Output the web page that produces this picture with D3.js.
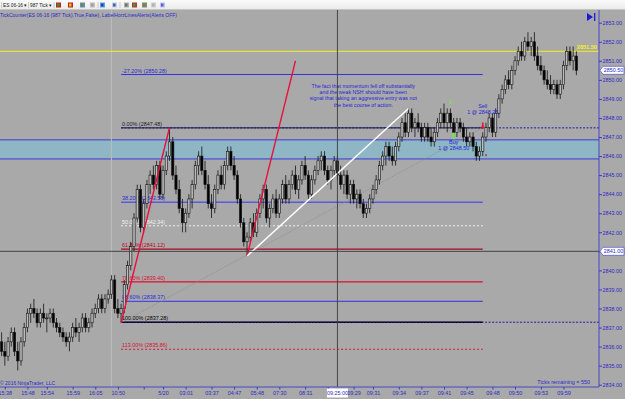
<!DOCTYPE html>
<html>
<head>
<meta charset="utf-8">
<title>ES 06-16 987 Tick</title>
<script src="https://d3js.org/d3.v7.min.js"></script>
<style>
  html, body { margin: 0; padding: 0; background: #a9a9a9; }
  svg { display: block; }
  text { font-family: "Liberation Sans", Arial, sans-serif; }
</style>
</head>
<body>
<svg id="chart" width="625" height="399"></svg>
<script>
// bars: [open, high, low, close]
const bars = [
  [2836.25,2836.75,2835.50,2835.75],[2835.75,2836.25,2835.00,2835.50],[2835.50,2836.50,2835.25,2836.25],
  [2836.25,2837.00,2836.00,2836.75],[2836.75,2837.00,2835.50,2835.75],[2835.75,2836.25,2834.75,2835.25],
  [2835.25,2836.50,2835.00,2836.25],[2836.25,2837.25,2836.00,2837.00],[2837.00,2838.00,2836.75,2837.75],
  [2837.75,2838.25,2837.25,2838.00],[2838.00,2838.50,2837.50,2837.75],[2837.75,2838.00,2837.00,2837.25],
  [2837.25,2838.00,2837.00,2837.75],[2837.75,2838.25,2837.25,2837.50],[2837.50,2837.75,2836.75,2837.50],
  [2837.50,2838.00,2837.25,2837.75],[2837.75,2838.00,2837.00,2837.25],[2837.25,2837.50,2836.75,2837.00],
  [2837.00,2837.25,2836.50,2836.75],[2836.75,2837.00,2836.25,2836.50],[2836.50,2836.75,2836.00,2836.25],
  [2836.25,2836.75,2835.75,2836.50],[2836.50,2837.25,2836.25,2837.00],[2837.00,2837.50,2836.50,2836.75],
  [2836.75,2837.25,2836.25,2837.00],[2837.00,2837.75,2836.75,2837.50],[2837.50,2837.75,2836.75,2837.00],
  [2837.00,2837.50,2836.75,2837.25],[2837.25,2838.00,2837.00,2837.75],[2837.75,2838.25,2837.50,2838.00],
  [2838.00,2838.75,2837.75,2838.50],[2838.50,2838.75,2837.75,2838.00],[2838.00,2838.75,2837.75,2838.50],
  [2838.50,2839.00,2838.25,2838.75],[2838.75,2839.75,2838.50,2839.50],[2839.50,2839.75,2837.75,2838.00],
  [2838.00,2838.50,2837.50,2837.75],[2837.75,2838.25,2837.25,2838.00],[2838.00,2839.50,2837.75,2839.25],
  [2839.25,2840.50,2839.00,2840.25],[2840.25,2841.50,2840.00,2841.25],[2841.25,2843.00,2841.00,2842.75],
  [2842.75,2844.50,2842.50,2844.25],[2844.25,2844.50,2842.00,2842.25],[2842.25,2843.75,2842.00,2843.50],
  [2843.50,2844.75,2843.25,2844.50],[2844.50,2845.25,2844.00,2845.00],[2845.00,2845.50,2844.25,2844.50],
  [2844.50,2845.75,2844.25,2845.50],[2845.50,2845.75,2843.75,2844.00],[2844.00,2845.50,2843.75,2845.25],
  [2845.25,2846.25,2845.00,2846.00],[2846.00,2847.50,2845.75,2846.75],[2846.75,2847.00,2844.75,2845.00],
  [2845.00,2845.50,2844.00,2844.25],[2844.25,2844.75,2843.00,2843.25],[2843.25,2843.75,2842.00,2842.50],
  [2842.50,2843.25,2842.00,2843.00],[2843.00,2844.00,2842.75,2843.75],[2843.75,2844.75,2843.25,2844.50],
  [2844.50,2845.75,2844.25,2845.50],[2845.50,2846.25,2845.00,2846.00],[2846.00,2846.50,2845.00,2845.25],
  [2845.25,2845.75,2844.25,2844.50],[2844.50,2845.00,2843.25,2843.50],[2843.50,2844.00,2842.75,2843.25],
  [2843.25,2844.50,2843.00,2844.25],[2844.25,2845.25,2844.00,2845.00],[2845.00,2845.50,2844.25,2844.50],
  [2844.50,2845.75,2844.25,2845.50],[2845.50,2846.50,2845.25,2846.25],[2846.25,2846.50,2845.25,2845.50],
  [2845.50,2846.00,2844.75,2845.00],[2845.00,2845.25,2843.50,2843.75],[2843.75,2844.00,2842.25,2842.50],
  [2842.50,2842.75,2841.25,2841.50],[2841.50,2842.00,2840.75,2841.75],[2841.75,2842.75,2841.50,2842.50],
  [2842.50,2843.00,2841.75,2842.00],[2842.00,2843.25,2841.75,2843.00],[2843.00,2844.00,2842.75,2843.75],
  [2843.75,2844.50,2843.25,2844.25],[2844.25,2844.50,2842.50,2842.75],[2842.75,2843.50,2842.25,2843.25],
  [2843.25,2844.00,2843.00,2843.75],[2843.75,2844.25,2842.75,2843.00],[2843.00,2844.00,2842.75,2843.75],
  [2843.75,2844.75,2843.50,2844.50],[2844.50,2845.00,2843.50,2843.75],[2843.75,2844.75,2843.50,2844.50],
  [2844.50,2845.25,2844.25,2845.00],[2845.00,2845.50,2844.00,2844.25],[2844.25,2845.00,2843.75,2844.75],
  [2844.75,2845.75,2844.50,2845.50],[2845.50,2846.00,2844.75,2845.00],[2845.00,2845.25,2843.75,2844.00],
  [2844.00,2845.00,2843.75,2844.75],[2844.75,2845.50,2844.50,2845.25],[2845.25,2846.00,2845.00,2845.75],
  [2845.75,2846.25,2845.25,2846.00],[2846.00,2846.25,2845.00,2845.25],[2845.25,2845.50,2844.50,2844.75],
  [2844.75,2845.50,2844.25,2845.25],[2845.25,2846.00,2845.00,2845.75],[2845.75,2846.00,2844.75,2845.00],
  [2845.00,2845.50,2844.25,2844.50],[2844.50,2845.25,2844.00,2845.00],[2845.00,2845.25,2843.75,2844.00],
  [2844.00,2844.75,2843.50,2844.50],[2844.50,2844.75,2843.50,2843.75],[2843.75,2844.25,2843.25,2844.00],
  [2844.00,2844.25,2843.25,2843.50],[2843.50,2843.75,2842.75,2843.00],[2843.00,2843.50,2842.75,2843.25],
  [2843.25,2844.00,2843.00,2843.75],[2843.75,2844.50,2843.50,2844.25],[2844.25,2845.00,2844.00,2844.75],
  [2844.75,2845.75,2844.50,2845.50],[2845.50,2846.25,2845.25,2846.00],[2846.00,2846.75,2845.50,2846.50],
  [2846.50,2846.75,2845.75,2846.00],[2846.00,2846.50,2845.50,2845.75],[2845.75,2846.75,2845.50,2846.50],
  [2846.50,2847.25,2846.25,2847.00],[2847.00,2848.00,2846.75,2847.75],[2847.75,2848.25,2847.00,2847.25],
  [2847.25,2848.50,2847.00,2848.25],[2848.25,2848.50,2847.25,2847.50],[2847.50,2848.00,2847.00,2847.75],
  [2847.75,2848.25,2847.25,2847.50],[2847.50,2847.75,2846.75,2847.00],[2847.00,2847.75,2846.75,2847.50],
  [2847.50,2847.75,2846.75,2847.00],[2847.00,2847.50,2846.50,2846.75],[2846.75,2847.50,2846.50,2847.25],
  [2847.25,2848.00,2847.00,2847.75],[2847.75,2848.50,2847.50,2848.25],[2848.25,2848.75,2847.50,2847.75],
  [2847.75,2848.50,2847.25,2848.25],[2848.25,2848.50,2847.50,2847.75],[2847.75,2848.00,2847.00,2847.25],
  [2847.25,2848.00,2847.00,2847.75],[2847.75,2848.00,2847.25,2847.50],[2847.50,2847.75,2846.75,2847.00],
  [2847.00,2847.50,2846.50,2846.75],[2846.75,2847.25,2846.50,2847.00],[2847.00,2847.25,2846.25,2846.50],
  [2846.50,2846.75,2845.75,2846.00],[2846.00,2846.50,2845.75,2846.25],[2846.25,2847.25,2846.00,2847.00],
  [2847.00,2847.75,2846.75,2847.50],[2847.50,2848.25,2847.25,2848.00],[2848.00,2848.25,2847.00,2847.25],
  [2847.25,2848.50,2847.00,2848.25],[2848.25,2849.25,2848.00,2849.00],[2849.00,2849.75,2848.75,2849.50],
  [2849.50,2850.25,2849.25,2850.00],[2850.00,2850.50,2849.50,2849.75],[2849.75,2850.75,2849.50,2850.50],
  [2850.50,2851.25,2850.25,2851.00],[2851.00,2851.75,2850.75,2851.50],[2851.50,2852.00,2851.00,2851.25],
  [2851.25,2852.25,2851.00,2852.00],[2852.00,2852.50,2851.50,2851.75],[2851.75,2852.25,2851.25,2852.00],
  [2852.00,2852.50,2851.00,2851.25],[2851.25,2851.75,2850.50,2850.75],[2850.75,2851.25,2850.25,2850.50],
  [2850.50,2850.75,2849.75,2850.00],[2850.00,2850.50,2849.50,2849.75],[2849.75,2850.25,2849.25,2849.50],
  [2849.50,2850.00,2849.25,2849.75],[2849.75,2850.00,2849.00,2849.25],[2849.25,2850.00,2849.00,2849.75],
  [2849.75,2851.00,2849.50,2850.75],[2850.75,2851.75,2850.50,2851.50],[2851.50,2851.75,2850.75,2851.00],
  [2851.00,2851.75,2850.50,2851.25],[2851.25,2851.50,2850.25,2850.50]
];

// tick under the crosshair box keeps no label of its own (it is hidden there)
const timeLabels = ['15:38','15:48','15:54','15:59','16:05','10:50','','5/20','03:01','03:37','04:47','05:48',
  '07:30','08:31','','09:29','09:31','09:34','09:37','09:41','09:45','09:48','09:50','09:53','09:59'];
const timeBars = [1,8,14,22,29,36,44,50,57,65,72,79,86,94,101,109,115,123,130,137,144,152,159,167,174];

const priceTicks = d3.range(2834, 2854, 1);

const fibPct   = ['-27.20%','0.00%','38.20%','50.00%','61.80%','78.60%','88.60%','100.00%','113.00%'];
const fibPrice = [2850.28, 2847.48, 2843.58, 2842.34, 2841.12, 2839.40, 2838.37, 2837.28, 2835.86];
const fibColor = ['#3434e0','#1c1c1c','#5a5ae0','#f2f2f2','#a80a22','#e0102e','#4a4ae0','#000000','#d81030'];
const fibText  = ['#2a2ad8','#1c1c1c','#2a2ad8','#f2f2f2','#c00020','#d81030','#2a2ad8','#000000','#d81030'];
const fibDash  = [null, null, null, '2,2', null, null, null, null, '2,2'];
const fibWidth = [1, 1, 1.6, 1, 1.2, 1.2, 1.2, 1.6, 1];
const fibFrom = 37, fibTo = 149;

const zone = [2845.85, 2846.85];
const alertPrice = 2851.50;
const lastPrice = 2850.50;
const crossPrice = 2841.00, crossBar = 104, crossTime = '09:25:00';
const sessionBar = 34;

const noteLines = ['The fact that momentum fell off substantially', 'and the weak NSH should have been',
  'signal that taking an aggressive entry was not', 'the best course of action.'];

// ------------------------------------------------------------------
const W = 625, H = 399;
const plotTop = 10, plotBottom = 387, plotRight = 599;
const svg = d3.select('#chart');

const x = d3.scaleBand().domain(d3.range(bars.length)).range([0, 578]).paddingInner(0.3).paddingOuter(0.15);
const xc = i => x(i) + x.bandwidth() / 2;
const y = d3.scaleLinear().domain([2834, 2853]).range([384.7, 22.7]);

svg.append('rect').attr('width', W).attr('height', H).attr('fill', '#a9a9a9');

// zone
svg.append('rect').attr('x', 0).attr('y', y(zone[1])).attr('width', plotRight)
  .attr('height', y(zone[0]) - y(zone[1])).attr('fill', '#8eb6c4');
[zone[0], zone[1]].forEach(p => svg.append('line').attr('x1', 0).attr('x2', plotRight)
  .attr('y1', y(p)).attr('y2', y(p)).attr('stroke', '#3a3ad8').attr('stroke-width', 1));

// session break
svg.append('line').attr('x1', xc(sessionBar)).attr('x2', xc(sessionBar)).attr('y1', plotTop).attr('y2', plotBottom)
  .attr('stroke', '#bdbdbd').attr('stroke-width', 1);

// fib lines
const fib = svg.append('g');
fibPrice.forEach((p, k) => {
  fib.append('line').attr('x1', xc(fibFrom)).attr('x2', xc(fibTo)).attr('y1', y(p)).attr('y2', y(p))
    .attr('stroke', fibColor[k]).attr('stroke-width', fibWidth[k])
    .attr('stroke-dasharray', fibDash[k]);
  fib.append('text').attr('x', xc(fibFrom) + 1).attr('y', y(p) - 2)
    .attr('font-size', 5.4).attr('fill', fibText[k])
    .text(`${fibPct[k]} (${p.toFixed(2)})`);
});
// extended 0% / 100%
[fibPrice[1], fibPrice[7]].forEach(p => svg.append('line').attr('x1', xc(fibFrom)).attr('x2', plotRight)
  .attr('y1', y(p)).attr('y2', y(p)).attr('stroke', '#1a1aa8').attr('stroke-width', 1)
  .attr('stroke-dasharray', '2,1.5'));

// alert line
svg.append('line').attr('x1', 0).attr('x2', plotRight).attr('y1', y(alertPrice)).attr('y2', y(alertPrice))
  .attr('stroke', '#f4f020').attr('stroke-width', 1);
svg.append('text').attr('x', plotRight - 2).attr('y', y(alertPrice) - 2).attr('text-anchor', 'end')
  .attr('font-size', 5.6).attr('font-weight', 'bold').attr('fill', '#f4f020').text(alertPrice.toFixed(2));

// gray trend line
svg.append('line').attr('x1', xc(fibFrom)).attr('y1', y(bars[fibFrom][2]))
  .attr('x2', xc(fibTo)).attr('y2', y(fibPrice[1]))
  .attr('stroke', '#8c8c8c').attr('stroke-width', 0.7).attr('stroke-dasharray', '1.5,1');

// candles
const wick = '#141414';
const cg = svg.append('g');
cg.selectAll('line').data(bars).join('line')
  .attr('x1', (d, i) => xc(i)).attr('x2', (d, i) => xc(i))
  .attr('y1', d => y(d[1])).attr('y2', d => y(d[2]))
  .attr('stroke', wick).attr('stroke-width', 0.8);
cg.selectAll('rect').data(bars).join('rect')
  .attr('x', (d, i) => x(i)).attr('width', x.bandwidth())
  .attr('y', d => y(Math.max(d[0], d[3])))
  .attr('height', d => Math.max(0.8, Math.abs(y(d[0]) - y(d[3]))))
  .attr('fill', d => d[3] >= d[0] ? '#bcbcbc' : '#000')
  .attr('stroke', wick).attr('stroke-width', 0.6);

// drawn lines
const redA = [fibFrom, bars[fibFrom][2], 52, bars[52][1]];
const redB = [76, bars[76][2], 91, bars[76][2] + (bars[52][1] - bars[fibFrom][2])];
[redA, redB].forEach(r => svg.append('line').attr('x1', xc(r[0])).attr('y1', y(r[1]))
  .attr('x2', xc(r[2])).attr('y2', y(r[3])).attr('stroke', '#e8103c').attr('stroke-width', 1.4));
svg.append('line').attr('x1', xc(76)).attr('y1', y(bars[76][2])).attr('x2', xc(126)).attr('y2', y(bars[126][1]))
  .attr('stroke', '#ffffff').attr('stroke-width', 1.4);

// note
noteLines.forEach((t, k) => svg.append('text').attr('x', xc(112)).attr('y', 88 + k * 6.2)
  .attr('text-anchor', 'middle').attr('font-size', 5.3).attr('fill', '#2626d8').text(t));

// trades
const tr = svg.append('g').attr('font-size', 5.4).attr('fill', '#2626d8').attr('text-anchor', 'middle');
// buy
tr.append('path').attr('d', `M${xc(140)},${y(2847.25)} l-2,3 h1.2 v4 h1.6 v-4 h1.2 z`).attr('fill', '#6cf040');
tr.append('rect').attr('x', xc(139) - 0.7).attr('y', y(2848.90)).attr('width', 1.4).attr('height', 3).attr('fill', '#6cf040');
tr.append('text').attr('x', xc(140)).attr('y', y(2846.80) + 3).text('Buy');
tr.append('text').attr('x', xc(140)).attr('y', y(2846.50) + 3).text('1 @ 2848.50');
// sell
tr.append('path').attr('d', `M${xc(149)},${y(2847.40)} l-2,-3 h1.2 v-4 h1.6 v4 h1.2 z`).attr('fill', '#e8103c');
tr.append('rect').attr('x', xc(150) - 0.7).attr('y', y(2846.10)).attr('width', 1.4).attr('height', 2).attr('fill', '#e8103c');
tr.append('text').attr('x', xc(149)).attr('y', y(2848.65) + 2).text('Sell');
tr.append('text').attr('x', xc(149)).attr('y', y(2848.30) + 2).text('1 @ 2848.25');

// crosshair
svg.append('line').attr('x1', xc(crossBar)).attr('x2', xc(crossBar)).attr('y1', plotTop).attr('y2', plotBottom)
  .attr('stroke', '#3a3a3a').attr('stroke-width', 0.9);
svg.append('line').attr('x1', 0).attr('x2', plotRight).attr('y1', y(crossPrice)).attr('y2', y(crossPrice))
  .attr('stroke', '#3a3a3a').attr('stroke-width', 0.9);

// right axis
const axR = svg.append('g').attr('transform', `translate(${plotRight},0)`)
  .call(d3.axisRight(y).tickValues(priceTicks).tickSize(3).tickFormat(d3.format('.2f')));
axR.select('.domain').attr('stroke', '#4848c8').attr('d', `M0,${plotTop}V${plotBottom}`);
axR.selectAll('.tick line').attr('stroke', '#3a3ac8');
axR.selectAll('.tick text').attr('font-size', 5.4).attr('fill', '#2a2ac8').attr('x', 3.5)
  .attr('font-family', '"Liberation Sans", Arial, sans-serif');

// bottom axis
const tickX = d3.scaleOrdinal().domain(timeBars).range(timeBars.map(xc));
const axB = svg.append('g').attr('transform', `translate(0,${plotBottom})`)
  .call(d3.axisBottom(tickX).tickValues(timeBars).tickSize(2.5)
    .tickFormat((d, k) => timeLabels[k]));
axB.select('.domain').attr('stroke', '#4848c8').attr('d', `M0,0H${plotRight}`);
axB.selectAll('.tick line').attr('stroke', '#3a3ac8');
axB.selectAll('.tick text').attr('font-size', 5.4).attr('fill', '#2a2ac8').attr('dy', '0.55em')
  .attr('font-family', '"Liberation Sans", Arial, sans-serif');

// axis value boxes
function priceBox(p, txt) {
  const g = svg.append('g').attr('transform', `translate(${plotRight},${y(p)})`);
  g.append('path').attr('d', 'M1,0 L4,-4 H25 V4 H4 Z').attr('fill', '#fff').attr('stroke', '#3a3ac8').attr('stroke-width', 0.6);
  g.append('text').attr('x', 14.5).attr('y', 2).attr('text-anchor', 'middle').attr('font-size', 5.4)
    .attr('fill', '#2a2ac8').text(txt);
}
priceBox(lastPrice, lastPrice.toFixed(2));
priceBox(crossPrice, crossPrice.toFixed(2));
const tb = svg.append('g').attr('transform', `translate(${xc(crossBar)},${plotBottom + 1.5})`);
tb.append('rect').attr('x', -10.5).attr('y', 0).attr('width', 21).attr('height', 9).attr('fill', '#fff');
tb.append('text').attr('x', 0).attr('y', 6.5).attr('text-anchor', 'middle').attr('font-size', 5.4)
  .attr('fill', '#2a2ac8').text(crossTime);

// texts
svg.append('text').attr('x', 590).attr('y', 384).attr('text-anchor', 'end').attr('font-size', 5.4)
  .attr('fill', '#2a2ac8').text('Ticks remaining = 550');
svg.append('text').attr('x', 0).attr('y', 385).attr('font-size', 5).attr('fill', '#2a2ac8')
  .text('\u00a9 2016 NinjaTrader, LLC');
svg.append('text').attr('x', 0).attr('y', 16.5).attr('font-size', 5.2).attr('fill', '#2a2ac8')
  .attr('textLength', 177).attr('lengthAdjust', 'spacingAndGlyphs')
  .text('TickCounter(ES 06-16 (987 Tick),True,False), LabelHorzLinesAlerts(Alerts OFF)');

// scroll-to-end icon
svg.append('path').attr('d', 'M587,13 L593,17 L587,21 Z').attr('fill', '#1a1ad8');
svg.append('rect').attr('x', 594).attr('y', 13).attr('width', 1.3).attr('height', 8).attr('fill', '#1a1ad8');

// toolbar
const defs = svg.append('defs');
const gr = defs.append('linearGradient').attr('id', 'tb').attr('x1', 0).attr('x2', 0).attr('y1', 0).attr('y2', 1);
gr.append('stop').attr('offset', 0).attr('stop-color', '#fbfbfb');
gr.append('stop').attr('offset', 1).attr('stop-color', '#e9e9e9');
svg.append('rect').attr('width', W).attr('height', plotTop).attr('fill', 'url(#tb)');
svg.append('line').attr('x1', 0).attr('x2', W).attr('y1', plotTop - 0.5).attr('y2', plotTop - 0.5).attr('stroke', '#c4c4c4');
const tbg = svg.append('g').attr('font-size', 4.8).attr('fill', '#222');
tbg.append('text').attr('x', 3).attr('y', 6.5).text('ES 06-16 \u25be');
tbg.append('text').attr('x', 30).attr('y', 6.5).text('987 Tick \u25be');
const icons = [[56, '#3a9a30', '#c02020'], [68, '#e8c020', '#c02020'], [80, '#40a040', '#8080c0'], [90, '#a0a0a0', '#c0c0c0'],
  [100, '#2040c0', '#60a0e0'], [112, '#4060a0', '#c0d0e0'], [124, '#707070', '#b0b0b0'], [132, '#30a030', '#c03030'],
  [142, '#c06060', '#60a060'], [151, '#b0b0b0', '#d0d0d0'], [160, '#6060c0', '#c0c0ff']];
icons.forEach(([ix, c1, c2]) => {
  tbg.append('rect').attr('x', ix).attr('y', 2.5).attr('width', 5).attr('height', 5).attr('fill', c2);
  tbg.append('rect').attr('x', ix + 1).attr('y', 3.5).attr('width', 2.5).attr('height', 3).attr('fill', c1);
});
[1.5, 28.5, 54, 98, 120].forEach(sx => tbg.append('line').attr('x1', sx).attr('x2', sx).attr('y1', 2).attr('y2', 8)
  .attr('stroke', '#b0b0b0').attr('stroke-width', 0.6));
</script>
</body>
</html>
